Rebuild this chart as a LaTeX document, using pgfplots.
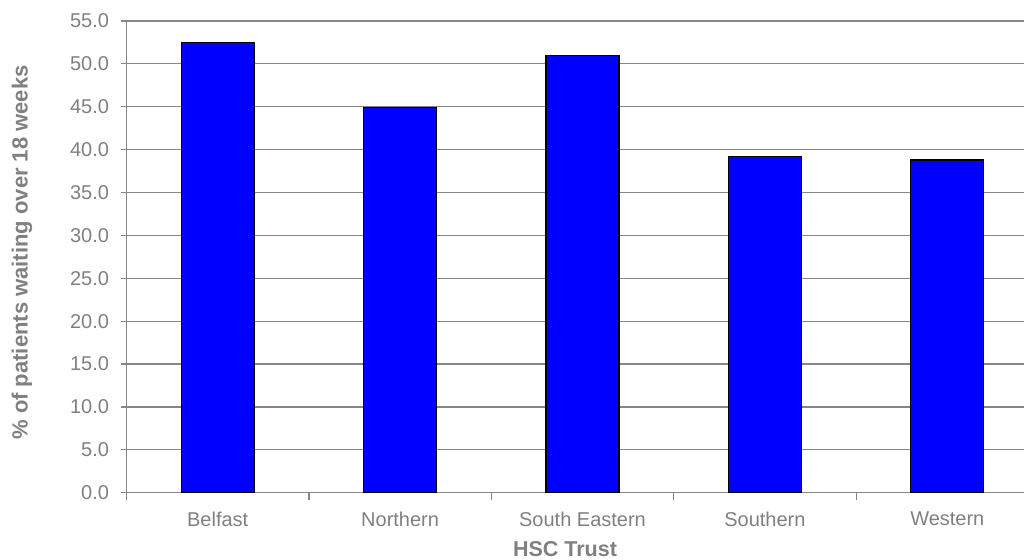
\documentclass[border=0pt]{standalone}
\usepackage{pgfplots}
\pgfplotsset{compat=1.18}
\usepackage{fontspec}
\setmainfont{Liberation Sans}
\definecolor{txtgray}{RGB}{128,128,128}
\definecolor{gridgray}{RGB}{134,134,134}
\definecolor{barblue}{RGB}{0,0,255}
\begin{document}
\begin{tikzpicture}
\useasboundingbox (-126.5pt,-66.3pt) rectangle (897.5pt,492.7pt);
\clip (-126.5pt,-66.3pt) rectangle (897.5pt,492.7pt);
\begin{axis}[
  at={(0,0)}, anchor=south west,
  scale only axis,
  width=912pt, height=471.7pt,
  xmin=-0.5, xmax=4.5,
  ymin=0, ymax=55,
  axis lines*=left,
  axis line style={gridgray, line width=1.2pt},
  xtick={0,1,2,3,4},
  xticklabels={Belfast,Northern,South Eastern,Southern,Western},
  minor xtick={-0.5,0.5,1.5,2.5,3.5,4.5},
  ytick={0,5,...,55},
  tick align=outside,
  major tick length=5pt,
  minor tick length=7pt,
  x tick style={draw=none},
  minor x tick style={draw=gridgray, line width=1.2pt},
  y tick style={draw=gridgray, line width=1.2pt},
  ymajorgrids,
  grid style={gridgray, line width=1.2pt},
  yticklabel={\pgfmathprintnumber[fixed,fixed zerofill,precision=1]{\tick}},
  /pgf/number format/assume math mode=true,
  ticklabel style={font=\fontsize{20}{24}\selectfont, text=txtgray},
  xticklabel style={yshift=-11pt},
  yticklabel style={xshift=-9pt},
  clip=false,
]
\addplot[ybar, bar width=73pt, fill=barblue, draw=black, line width=1.3pt]
  coordinates {(0,52.5) (1,44.9) (2,51.0) (3,39.2) (4,38.8)};
\end{axis}
\node[rotate=90, text=txtgray, font=\fontsize{22}{26}\selectfont\bfseries] at (-104.5pt,240.2pt) {\% of patients waiting over 18 weeks};
\node[anchor=base, inner sep=0pt, text=txtgray, font=\fontsize{21.5}{26}\selectfont\bfseries] at (438.5pt,-63.5pt) {HSC Trust};
\end{tikzpicture}
\end{document}
